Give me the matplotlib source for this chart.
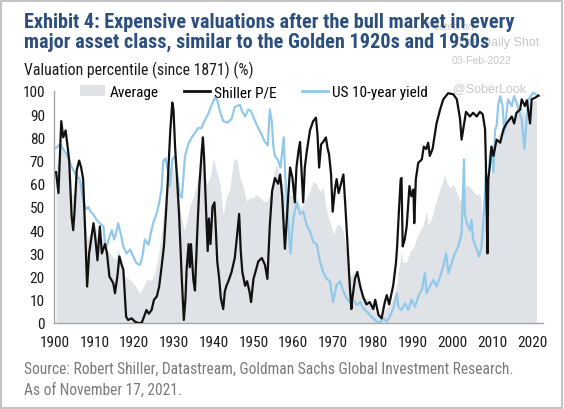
import matplotlib
matplotlib.use("Agg")
import matplotlib.pyplot as plt
from matplotlib.patches import Rectangle, Patch
from matplotlib.lines import Line2D

# Shiller P/E valuation percentile
pe_years = [1900.4, 1901.0, 1901.7, 1902.2, 1902.8, 1903.3, 1903.7, 1904.3, 1904.7, 1905.0,
            1905.6, 1906.2, 1906.7, 1907.2, 1907.7, 1908.2, 1908.7, 1909.3, 1909.8, 1910.3,
            1910.8, 1911.4, 1911.9, 1912.7, 1913.2, 1913.8, 1914.3, 1914.8, 1915.2, 1915.8,
            1916.3, 1916.9, 1917.3, 1918.0, 1918.5, 1919.4, 1920.2, 1921.0, 1921.9, 1922.5,
            1923.1, 1923.7, 1924.4, 1925.0, 1925.7, 1926.3, 1926.9, 1927.5, 1928.0, 1928.5,
            1929.1, 1929.6, 1929.9, 1930.3, 1930.8, 1931.3, 1932.0, 1932.5, 1932.9, 1933.2,
            1933.7, 1934.0, 1934.3, 1934.9, 1935.3, 1935.9, 1936.4, 1937.0, 1937.3, 1937.6,
            1938.1, 1938.5, 1938.8, 1939.2, 1939.7, 1940.2, 1940.5, 1940.9, 1941.4, 1941.8,
            1942.4, 1942.8, 1943.2, 1943.7, 1944.5, 1945.3, 1945.9, 1946.4, 1946.8, 1947.2,
            1947.9, 1948.4, 1949.0, 1949.4, 1950.0, 1950.5, 1951.2, 1952.1, 1952.9, 1953.5,
            1954.1, 1954.7, 1955.4, 1956.2, 1956.7, 1957.2, 1957.6, 1957.9, 1958.5, 1959.2,
            1959.8, 1960.4, 1960.8, 1961.3, 1961.7, 1962.1, 1962.5, 1962.9, 1963.4, 1964.2,
            1965.0, 1965.7, 1966.1, 1966.5, 1967.0, 1967.5, 1968.2, 1968.6, 1969.0, 1969.5,
            1969.9, 1970.5, 1970.9, 1971.4, 1972.0, 1972.6, 1973.1, 1973.6, 1974.2, 1974.6,
            1974.8, 1975.5, 1976.1, 1976.8, 1977.6, 1978.4, 1979.2, 1980.1, 1980.6, 1981.4,
            1982.2, 1983.0, 1983.5, 1984.1, 1985.1, 1985.8, 1986.1, 1986.6, 1987.0, 1987.2,
            1987.5, 1988.0, 1988.5, 1989.2, 1989.7, 1990.2, 1990.4, 1990.8, 1991.4, 1992.3,
            1992.8, 1993.4, 1993.9, 1994.3, 1995.0, 1996.0, 1996.9, 1997.7, 1998.9, 2000.2,
            2001.1, 2001.9, 2002.3, 2002.7, 2003.4, 2004.4, 2005.2, 2006.1, 2006.9, 2007.6,
            2008.2, 2008.4, 2008.6, 2008.8, 2009.0, 2009.4, 2009.8, 2010.3, 2011.1, 2012.0,
            2012.8, 2013.6, 2014.9, 2015.5, 2016.1, 2017.0, 2017.4, 2018.2, 2018.7, 2019.5,
            2019.9, 2020.7, 2021.6]
pe_vals = [65, 56, 87, 80, 83, 76, 70, 46, 40, 47,
           66, 70, 67, 62, 40, 15.7, 30, 37, 43, 36,
           27, 41.6, 30, 34, 30, 20, 18.6, 17, 12.8, 20,
           28.7, 25, 23, 2.7, 1.3, 2, 0.6, 0, 0, 2.7,
           5.6, 4, 5.6, 10, 11.4, 15.7, 24, 33, 47, 62,
           83, 95, 92, 76, 62, 47, 18.6, 1.3, 10, 23,
           34, 24, 34, 18.6, 14, 40, 59, 74, 80, 71,
           48, 31, 45, 34, 50, 52, 42, 26.5, 19, 10.7,
           6, 13.5, 16, 18, 22, 28, 38, 47, 31, 22,
           16, 18, 13.5, 9, 19, 22, 26.5, 28, 25, 19,
           42, 57, 62.5, 60, 64, 55, 42, 32, 48, 67,
           62.5, 52, 67, 74, 78, 65, 52, 67, 74, 83,
           87, 88.5, 81, 67, 77, 78, 80, 75.5, 72.6, 64,
           48, 58, 62, 56, 60, 64, 50, 35, 16, 6,
           10, 19, 22, 16, 11, 8, 9, 6, 10, 3.5,
           2, 9, 12, 8, 16, 25.8, 33, 50, 62, 62.5,
           33, 36, 41.6, 59, 54.6, 57.5, 43, 62, 69, 70.5,
           76, 75, 77.7, 72, 75, 86, 92, 96.4, 99, 98.6,
           96.4, 88, 79, 83.4, 91, 89, 90.6, 89, 91, 90,
           83.4, 69, 47, 30, 62, 67.6, 76, 72, 79, 77.7,
           83.4, 86, 89, 86, 90.6, 92, 96.4, 93.5, 96, 86,
           96.4, 97, 98]

# US 10-year yield valuation percentile
yld_years = [1900.4, 1901.4, 1902.2, 1903.1, 1903.9, 1904.7, 1905.6, 1906.4, 1907.2, 1907.9,
             1908.5, 1909.1, 1909.8, 1910.6, 1911.4, 1912.3, 1912.7, 1913.1, 1913.8, 1914.4,
             1915.0, 1915.5, 1916.0, 1916.6, 1917.3, 1918.1, 1919.0, 1919.8, 1920.6, 1921.5,
             1922.1, 1922.7, 1923.6, 1924.2, 1924.8, 1925.7, 1926.3, 1926.9, 1927.3, 1927.9,
             1928.6, 1929.0, 1929.6, 1930.3, 1930.7, 1931.5, 1932.0, 1932.8, 1933.6, 1934.5,
             1935.3, 1936.1, 1936.9, 1937.8, 1938.6, 1939.5, 1940.3, 1940.9, 1941.6, 1942.4,
             1943.5, 1944.5, 1945.3, 1945.8, 1946.6, 1947.2, 1947.9, 1948.7, 1949.3, 1950.4,
             1951.2, 1952.1, 1952.9, 1953.6, 1954.1, 1954.6, 1955.0, 1955.4, 1956.2, 1956.8,
             1957.6, 1958.0, 1958.8, 1959.3, 1960.0, 1960.9, 1961.7, 1962.5, 1963.4, 1964.2,
             1965.0, 1965.9, 1966.7, 1967.5, 1968.4, 1969.2, 1970.0, 1970.9, 1971.8, 1972.6,
             1973.4, 1974.2, 1975.0, 1975.9, 1976.8, 1977.6, 1978.4, 1979.2, 1980.1, 1981.0,
             1981.8, 1982.6, 1983.5, 1984.3, 1985.1, 1986.0, 1986.4, 1987.2, 1988.1, 1988.9,
             1989.7, 1990.6, 1991.4, 1992.3, 1993.1, 1993.5, 1994.3, 1995.2, 1996.0, 1996.9,
             1997.7, 1998.4, 1999.0, 1999.8, 2000.6, 2001.5, 2002.3, 2002.9, 2003.1, 2003.6,
             2004.4, 2004.8, 2005.2, 2006.1, 2006.7, 2007.3, 2007.9, 2008.4, 2008.8, 2009.4,
             2009.8, 2010.3, 2010.7, 2011.1, 2011.5, 2012.0, 2012.6, 2013.0, 2013.6, 2014.0,
             2014.9, 2015.5, 2016.1, 2016.8, 2017.4, 2018.1, 2018.6, 2019.1, 2019.7, 2020.3,
             2021.0, 2021.8]
yld_vals = [75.5, 77, 75, 72.6, 69, 66, 63, 62, 53, 49,
            50, 48, 46.7, 44.5, 43, 41.6, 34.4, 33, 37, 40,
            36, 38.8, 43, 38.8, 33, 30, 31.6, 28.7, 25.8, 25,
            28.7, 36, 33.7, 38.8, 43, 47.4, 51.7, 57.5, 69.7, 71,
            64.7, 59, 70.5, 72, 66, 55, 54, 72, 77, 80,
            82, 84, 84, 87.5, 90, 94, 97, 96, 91, 87,
            86.3, 88, 93, 93.5, 94, 91, 89, 92, 91.5, 87,
            84, 81, 78, 76.5, 92, 87, 76, 72, 70, 67,
            80, 63, 42, 30, 45, 52, 47, 48, 42, 39.5,
            35, 34, 26.5, 22, 19, 18, 9, 16.4, 18, 13.5,
            10.7, 9, 10, 7.8, 9, 6.3, 5, 3.5, 2, 0.6,
            0, 2, 0.6, 3, 6, 12.8, 7, 5.6, 8.5, 5.6,
            10, 7, 11.4, 14.3, 21.5, 12.8, 15.7, 18.6, 15.7, 20,
            24.4, 30, 21.5, 25.8, 30, 33, 38.8, 70.5, 47.4, 43,
            40, 44.5, 36, 31.6, 28.7, 33, 47.4, 64.7, 54.6, 72,
            76, 65, 83, 85, 94, 97.8, 93.5, 82, 90.6, 96.4,
            93.5, 97.8, 95, 90.6, 87.8, 75, 87, 96.4, 97.8, 99.3,
            98.5, 97.8]

# Average of asset classes
avg_years = [1900.4, 1901.0, 1901.8, 1903.1, 1903.9, 1904.3, 1905.0, 1906.0, 1906.8, 1907.6,
             1908.2, 1909.3, 1910.1, 1910.9, 1911.8, 1912.7, 1914.0, 1915.2, 1916.0, 1916.8,
             1917.7, 1919.0, 1920.2, 1921.5, 1922.3, 1923.1, 1924.4, 1925.2, 1926.1, 1926.9,
             1927.8, 1928.6, 1929.4, 1930.3, 1931.1, 1932.0, 1932.6, 1933.4, 1934.0, 1934.9,
             1935.7, 1936.6, 1937.4, 1938.2, 1939.1, 1939.9, 1940.8, 1941.6, 1942.4, 1943.2,
             1944.1, 1944.9, 1945.8, 1946.6, 1947.5, 1948.3, 1949.1, 1950.0, 1950.8, 1951.7,
             1952.5, 1953.3, 1954.1, 1955.0, 1955.8, 1956.6, 1957.5, 1958.3, 1959.2, 1960.0,
             1960.9, 1961.7, 1962.5, 1963.4, 1964.2, 1965.0, 1965.9, 1966.7, 1967.5, 1968.4,
             1969.2, 1970.1, 1970.9, 1971.8, 1972.6, 1973.4, 1974.2, 1975.1, 1975.9, 1976.8,
             1977.6, 1978.4, 1979.3, 1980.1, 1981.0, 1981.8, 1982.6, 1983.5, 1984.3, 1985.1,
             1986.0, 1986.4, 1987.2, 1987.6, 1988.5, 1989.3, 1990.2, 1991.0, 1991.8, 1992.7,
             1993.5, 1993.9, 1994.8, 1995.6, 1996.4, 1997.3, 1998.1, 1998.5, 1999.4, 2000.2,
             2001.0, 2001.9, 2002.7, 2003.6, 2004.4, 2005.2, 2006.0, 2006.9, 2007.7, 2008.3,
             2009.0, 2009.8, 2010.7, 2011.5, 2012.3, 2013.2, 2014.0, 2014.9, 2015.7, 2016.5,
             2017.3, 2018.1, 2018.9, 2019.7, 2020.5, 2021.1]
avg_vals = [67, 72, 76, 72, 62, 55, 57, 65, 59, 44.5,
            36, 40, 43, 37, 37, 33, 30, 27, 31.6, 27,
            20, 18.6, 16.4, 12.8, 15.7, 18.6, 18.6, 21.5, 28.7, 38.8,
            55, 60, 69, 63, 55, 44.5, 40, 45, 50, 55,
            59.7, 68, 74, 59.7, 62.5, 71, 65, 59.7, 46.7, 54,
            58, 69.7, 71, 62.5, 58, 52.4, 54, 54, 55.3, 54,
            52.4, 52.4, 55.3, 64, 68.3, 62.5, 60, 49.6, 55.3, 55,
            54, 49.6, 51, 54, 56.8, 61, 59.7, 56.8, 58.2, 48,
            43.8, 38, 42.4, 42.4, 39.5, 30.8, 19.3, 22, 19.3, 15,
            12, 10.7, 9.2, 6.3, 3.5, 2, 4.9, 6.3, 7.8, 10.7,
            16.4, 22, 30.8, 26, 26.5, 30.8, 32.3, 36.6, 39.5, 42.4,
            48, 42, 45.2, 51, 55.3, 59.7, 64, 61, 58.2, 59.7,
            56.8, 52.4, 55.3, 59.7, 58.5, 56.8, 55.3, 55.3, 45.2, 42.4,
            59.7, 67, 74, 81, 82.7, 85.6, 88.5, 88.5, 89, 90,
            93, 90, 94, 95, 96, 96]

x_ticks = list(range(1900, 2021, 10))
y_ticks = list(range(0, 101, 10))

title = ("Exhibit 4: Expensive valuations after the bull market in every\n"
         "major asset class, similar to the Golden 1920s and 1950s")
source = ("Source: Robert Shiller, Datastream, Goldman Sachs Global Investment Research.\n"
          "As of November 17, 2021.")

FONT = ["Roboto Condensed", "Liberation Sans", "DejaVu Sans"]
plt.rcParams["font.family"] = FONT

BLACK = "#111111"
BLUE = "#92c9ea"
GREY = "#dfe2e6"

fig = plt.figure(figsize=(5.64, 4.10), dpi=100)
ax = fig.add_axes([0.0966, 0.2098, 0.8665, 0.5659])

ax.fill_between(avg_years, 0, avg_vals, color=GREY, lw=0, zorder=1)
ax.plot(yld_years, yld_vals, color=BLUE, lw=1.6, zorder=2)
ax.plot(pe_years, pe_vals, color=BLACK, lw=1.6, zorder=3)

ax.set_xlim(1900, 2022.8)
ax.set_ylim(0, 100)
ax.set_xticks(x_ticks)
ax.set_yticks(y_ticks)
ax.tick_params(length=0, labelsize=11, colors="#1a1a1a")
ax.tick_params(axis="x", pad=8.5)
ax.tick_params(axis="y", pad=7)
for s in ["top", "right"]:
    ax.spines[s].set_visible(False)
for s in ["left", "bottom"]:
    ax.spines[s].set_color("#a6a6a6")
    ax.spines[s].set_linewidth(1.0)

handles = [Patch(facecolor=GREY, edgecolor="none"),
           Line2D([], [], color=BLACK, lw=2),
           Line2D([], [], color=BLUE, lw=2)]
ax.legend(handles, ["Average", "Shiller P/E", "US 10-year yield"], ncol=3,
          loc="center left", bbox_to_anchor=(0.052, 0.995), frameon=False,
          fontsize=11, handlelength=1.65, handleheight=0.7, handletextpad=0.28,
          columnspacing=1.7, borderpad=0, borderaxespad=0)

# watermark
wm_font = ["Liberation Sans", "DejaVu Sans"]
fig.text(0.757, 1 - 26.7 / 410, "Posted on", va="center", fontsize=7.5,
         color="#c8c8c8", family=wm_font, zorder=0)
fig.text(0.810, 1 - 42.7 / 410, "The Daily Shot", va="center", fontsize=9,
         color="#c8c8c8", family=wm_font, zorder=0)
fig.text(0.801, 1 - 60.7 / 410, "03-Feb-2022", va="center", fontsize=7.5,
         color="#c8c8c8", family=wm_font, zorder=0)
fig.text(0.803, 1 - 89.3 / 410, "@SoberLook", va="center", fontsize=9,
         color="#c8c8c8", family=wm_font, zorder=0)

# multi-line texts: 'baseline' places the last line
fig.text(0.043, 1 - 47.7 / 410, title, ha="left", va="baseline", fontsize=14.6,
         fontweight="bold", color="#2b4f7e", linespacing=1.02, zorder=5)
fig.text(0.043, 1 - 75 / 410, "Valuation percentile (since 1871) (%)", ha="left",
         va="baseline", fontsize=11.3, color="#1a1a1a")
fig.text(0.043, 1 - 395 / 410, source, ha="left", va="baseline", fontsize=11.2,
         color="#7b7b7b", linespacing=1.45)

fig.patches.append(Rectangle((0.002, 0.003), 0.995, 0.993, transform=fig.transFigure,
                             fill=False, edgecolor="#c4c4c4", lw=1.5))

fig.savefig("out.png", dpi=100)
